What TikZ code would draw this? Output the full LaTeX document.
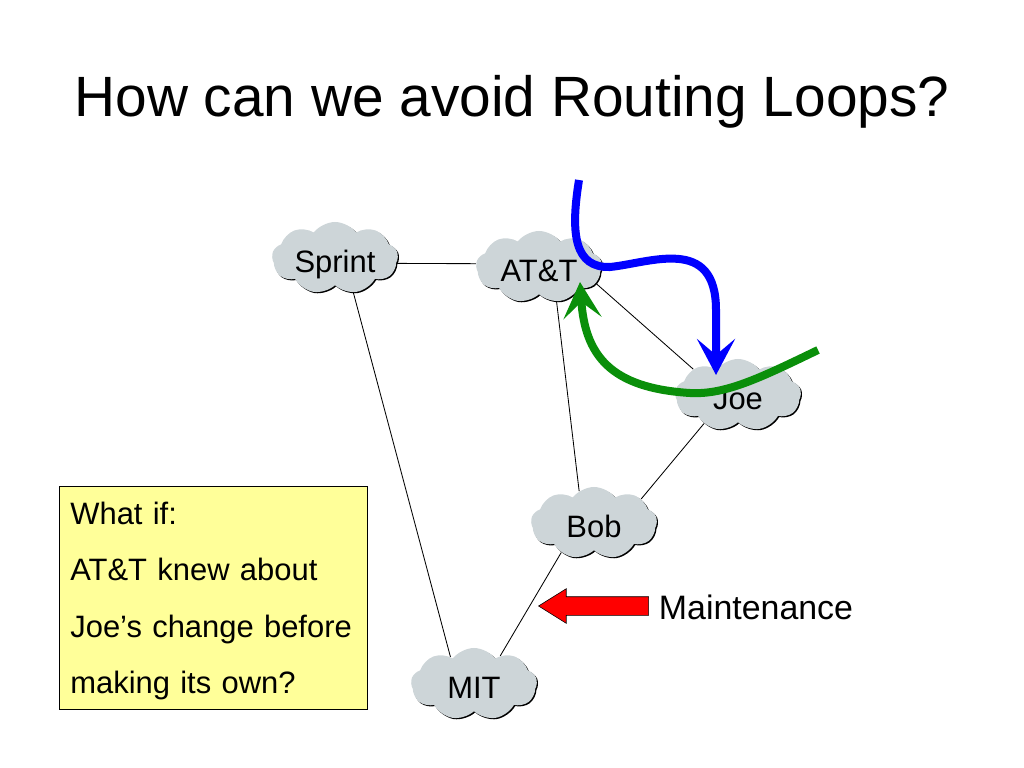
\documentclass[tikz,border=0pt]{standalone}
\usepackage{fontspec}
\setmainfont{Liberation Sans}
\usetikzlibrary{shapes.symbols,shapes.arrows,shadows,arrows.meta}
\definecolor{cloudgray}{HTML}{CDD5D8}
\definecolor{notefill}{HTML}{FFFF99}
\definecolor{pathgreen}{HTML}{0A8F0A}
\begin{document}
\begin{tikzpicture}[x=0.025cm,y=-0.025cm]
        \tikzstyle{link} = [line width=0.6pt]
        \tikzstyle{as} = [cloud, cloud puffs=9, cloud puff arc=105, cloud ignores aspect,
        minimum width=3.15cm, minimum height=1.8cm, inner sep=0pt, fill=cloudgray,
        general shadow={fill=black, shadow xshift=0.03cm, shadow yshift=-0.03cm},
        text height=20pt, text depth=0pt, font=\fontsize{22}{26}\selectfont]
        \tikzstyle{route} = [line width=0.2cm, -{Stealth[length=0.9cm,width=0.95cm,inset=0.4cm]}]

        \useasboundingbox (0,0) rectangle (1024,768);

        \node(title) at (512,102) {\fontsize{40.4}{50}\selectfont How can we avoid Routing Loops?};

        \node(sprint) [as] at (335,258) {Sprint};
        \node(att) [as] at (539,267) {AT\&T};
        \node(joe) [as] at (738,395) {Joe};
        \node(bob) [as] at (594,523) {Bob};
        \node(mit) [as] at (474,684) {MIT};

        \draw[link] (sprint.-5) -- (att.177);
        \draw[link] (sprint.-62) -- (mit.131);
        \draw[link] (att.-16) -- (joe.150);
        \draw[link] (att.-63) -- (bob.115);
        \draw[link] (joe.220) -- (bob.27);
        \draw[link] (bob.222) -- (mit.47);

        \coordinate(bluefrom) at (579,180);
        \coordinate(blueto) at (716,375);
        \coordinate(greenfrom) at (818,350);
        \coordinate(greento) at (580,282);
        \draw[route, blue] (bluefrom) .. controls (570,235) and (575,268) .. (610,267)
        .. controls (650,263) and (716,235) .. (716,310) -- (blueto);
        \draw[route, pathgreen] (greenfrom) .. controls (760,378) and (725,395) .. (690,393)
        .. controls (610,388) and (585,355) .. (greento);

        \node(note) [draw=black, line width=0.5pt, fill=notefill, anchor=north west, minimum width=7.7cm,
        minimum height=5.575cm, text width=7.15cm, align=left, font=\fontsize{22}{40.2}\selectfont]
        at (59,486) {\rule{0pt}{20.3pt}What if:\\AT\&T knew about\\Joe’s change before\\making its own?};

        \node(maint) [single arrow, draw=black, line width=0.4pt, fill=red, shape border rotate=180,
        minimum height=2.75cm, single arrow head extend=0.2cm, single arrow tip angle=64,
        inner xsep=0pt, inner ysep=0.225cm] at (601,606) {};
        \node(label) [anchor=west, font=\fontsize{24.1}{27}\selectfont] at (654,607) {Maintenance};
    \end{tikzpicture}
\end{document}
